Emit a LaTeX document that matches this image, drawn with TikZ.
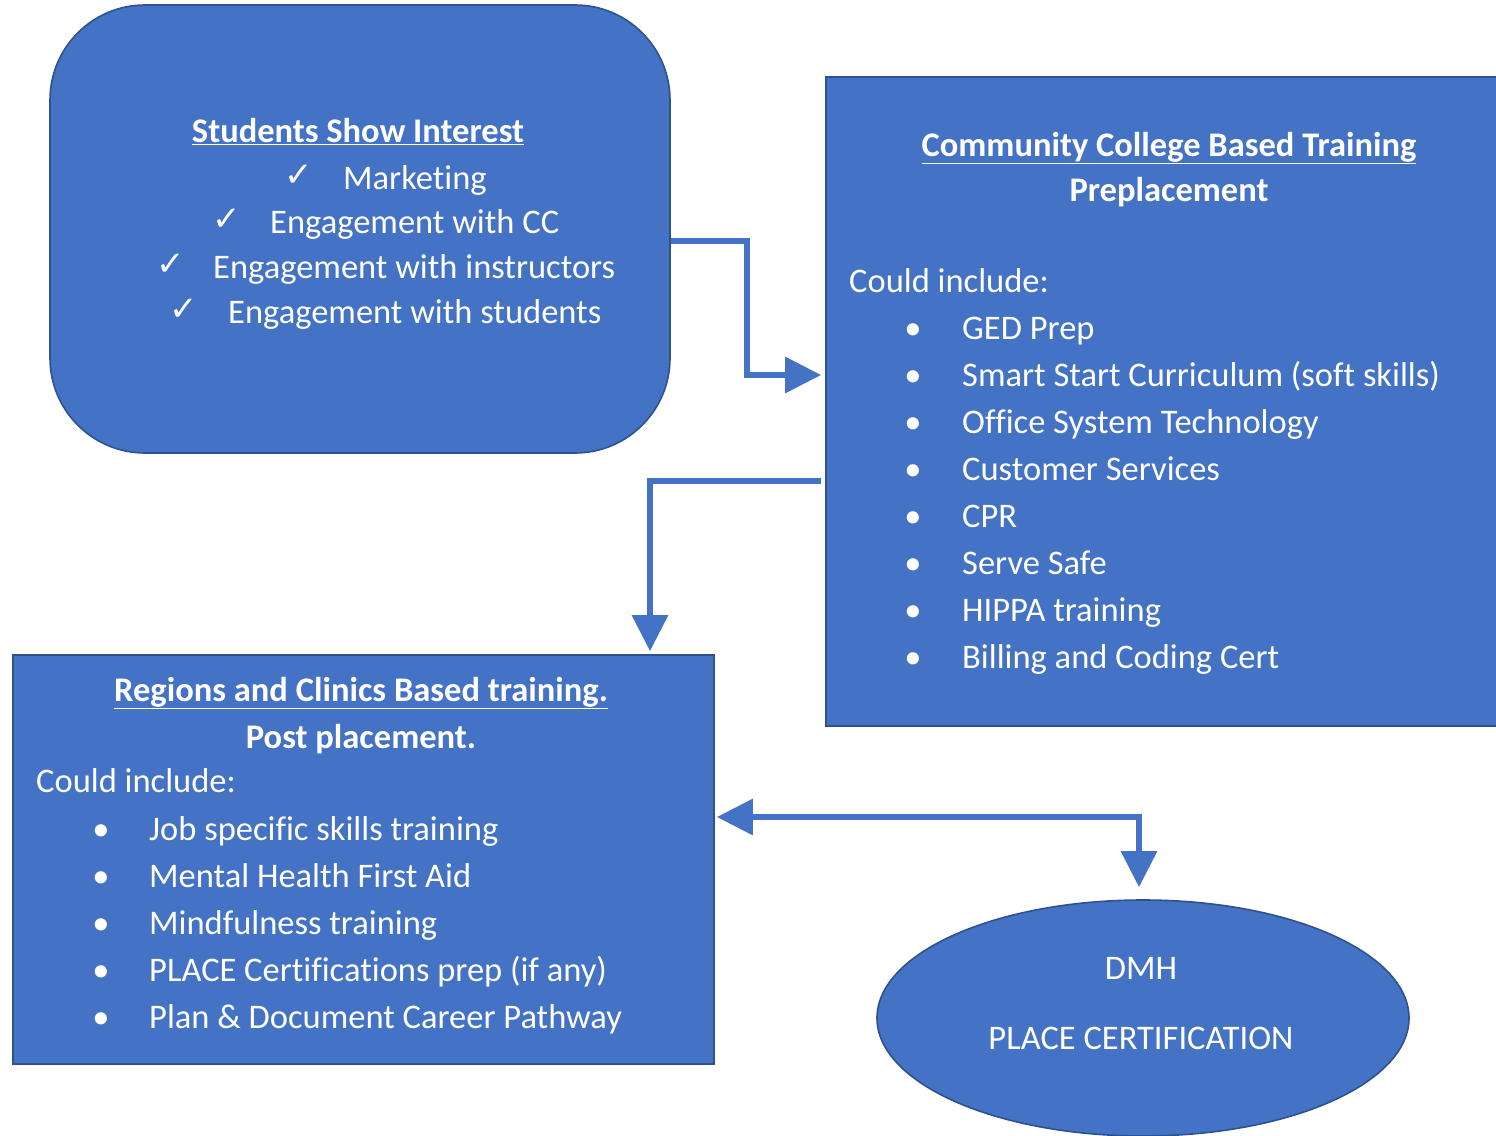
\documentclass[tikz,border=0pt]{standalone}
\usepackage{fontspec}
\setmainfont{Carlito}[Ligatures=NoCommon]
\newfontfamily\symfont{DejaVu Sans}
\usetikzlibrary{arrows.meta,shapes.geometric,calc}
\definecolor{boxblue}{HTML}{4472C4}
\definecolor{edgeblue}{HTML}{2F528F}
\begin{document}
\begin{tikzpicture}[x=1pt,y=-1pt,
  boxstyle/.style={draw=edgeblue, fill=boxblue, line width=1.6pt, inner sep=0pt},
  txt/.style={text=white, font=\fontsize{34.5}{40}\selectfont, inner sep=0pt, yshift=-9pt},
  btxt/.style={txt, font=\fontsize{34.5}{40}\selectfont\bfseries},
  chk/.style={text=white, font=\fontsize{34}{40}\selectfont\symfont, inner sep=0pt, yshift=-8pt},
  tipstyle/.tip={Triangle[length=36pt,width=35pt]},
  arr/.style={draw=boxblue, line width=6pt, -tipstyle},
  darr/.style={draw=boxblue, line width=6pt, tipstyle-tipstyle}]
\useasboundingbox (0,0) rectangle (1496,1135);

% boxes
\node[boxstyle, rounded corners=95pt, minimum width=620pt, minimum height=448pt] (box1) at (360,229) {};
\node[boxstyle, minimum width=672pt, minimum height=649pt] (box2) at (1162,401.5) {};
\node[boxstyle, minimum width=701pt, minimum height=409pt] (box3) at (363.5,859.5) {};
\node[boxstyle, ellipse, minimum width=532pt, minimum height=236pt] (ell) at (1143,1018) {};

% connectors
\draw[arr] ($(box1.east)+(0,12)$) -- ++(76,0) |- ($(box2.west)+(-4,-26.5)$);
\draw[arr] ($(box2.west)+(-4,79.5)$) -| ($(box3.north)+(286.5,-3)$);
\draw[darr] ($(box3.east)+(2,-42.5)$) -| ($(ell.north)+(-4,-12)$);

% box 1 text
\node[btxt, anchor=mid] (h1) at (358,131) {\underline{Students Show Interest}};
\node[chk, anchor=mid west] (c1) at (284,176) {✓};
\node[txt, anchor=mid west] (t1) at (343,178) {Marketing};
\node[chk, anchor=mid west] (c2) at (212,220) {✓};
\node[txt, anchor=mid west] (t2) at (270,222) {Engagement with CC};
\node[chk, anchor=mid west] (c3) at (156,265) {✓};
\node[txt, anchor=mid west] (t3) at (213,267) {Engagement with instructors};
\node[chk, anchor=mid west] (c4) at (169,310) {✓};
\node[txt, anchor=mid west] (t4) at (228,312) {Engagement with students};

% box 2 text
\node[btxt, anchor=mid] (h2) at (1169,145) {\underline{Community College Based Training}};
\node[btxt, anchor=mid] (h2b) at (1169,190) {Preplacement};
\node[txt, anchor=mid west] (ci2) at (849,281) {Could include:};
\foreach \i/\s in {0/GED Prep,1/Smart Start Curriculum (soft skills),2/Office System Technology,3/Customer Services,4/CPR,5/Serve Safe,6/HIPPA training,7/Billing and Coding Cert}{
  \node[txt, anchor=mid] (b2-\i) at (913,328+47*\i) {•};
  \node[txt, anchor=mid west] (i2-\i) at (962,328+47*\i) {\s};
}

% box 3 text
\node[btxt, anchor=mid] (h3) at (361,690) {\underline{Regions and Clinics Based training.}};
\node[btxt, anchor=mid] (h3b) at (361,737) {Post placement.};
\node[txt, anchor=mid west] (ci3) at (36,781) {Could include:};
\foreach \i/\s in {0/Job specific skills training,1/Mental Health First Aid,2/Mindfulness training,3/PLACE Certifications prep (if any),4/Plan \& Document Career Pathway}{
  \node[txt, anchor=mid] (b3-\i) at (101,829+47*\i) {•};
  \node[txt, anchor=mid west] (i3-\i) at (149,829+47*\i) {\s};
}

% ellipse text
\node[txt, anchor=mid] (e1) at (1141,968) {DMH};
\node[txt, anchor=mid] (e2) at (1141,1038) {PLACE CERTIFICATION};
\end{tikzpicture}
\end{document}
